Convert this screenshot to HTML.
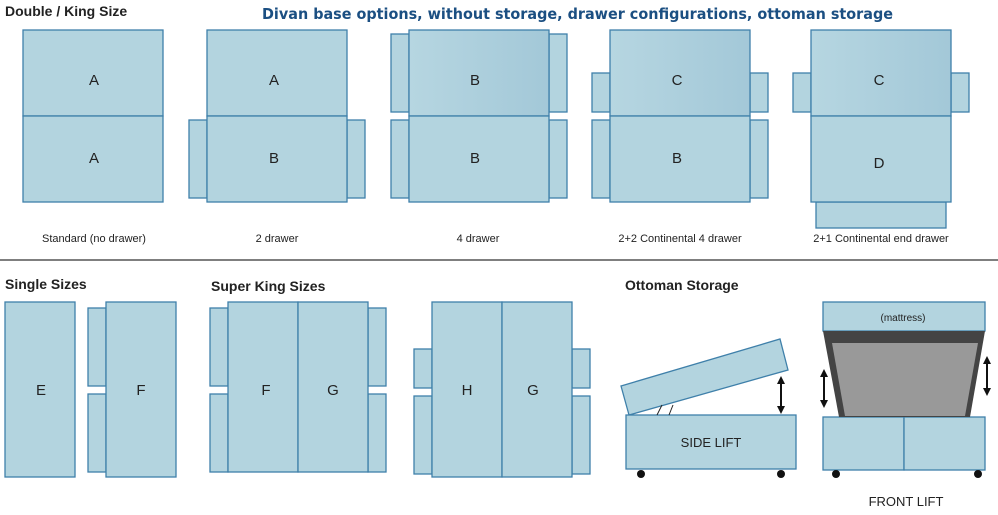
<!DOCTYPE html><html><head><style>body{margin:0;background:#fff}svg{display:block}</style></head><body>
<svg width="998" height="515" xmlns="http://www.w3.org/2000/svg" font-family="Liberation Sans, sans-serif">
<defs><linearGradient id="g" x1="0" x2="1"><stop offset="0" stop-color="#b6d6e1"/><stop offset="1" stop-color="#a3c8d8"/></linearGradient>
<marker id="ah" viewBox="0 0 10 10" refX="5" refY="5" markerWidth="4" markerHeight="4" orient="auto-start-reverse"><path d="M0,0L10,5L0,10z" fill="#111"/></marker></defs>
<g fill="#b3d4df" stroke="#3f80aa" stroke-width="1.3">
<rect x="23" y="30" width="140" height="86"/><rect x="23" y="116" width="140" height="86"/>
<rect x="189" y="120" width="18" height="78"/><rect x="347" y="120" width="18" height="78"/>
<rect x="207" y="30" width="140" height="86"/><rect x="207" y="116" width="140" height="86"/>
<rect x="391" y="34" width="18" height="78"/><rect x="391" y="120" width="18" height="78"/><rect x="549" y="34" width="18" height="78"/><rect x="549" y="120" width="18" height="78"/>
<rect x="409" y="30" width="140" height="86" fill="url(#g)"/><rect x="409" y="116" width="140" height="86"/>
<rect x="592" y="73" width="18" height="39"/><rect x="592" y="120" width="18" height="78"/><rect x="750" y="73" width="18" height="39"/><rect x="750" y="120" width="18" height="78"/>
<rect x="610" y="30" width="140" height="86" fill="url(#g)"/><rect x="610" y="116" width="140" height="86"/>
<rect x="793" y="73" width="18" height="39"/><rect x="951" y="73" width="18" height="39"/><rect x="816" y="202" width="130" height="26"/>
<rect x="811" y="30" width="140" height="86" fill="url(#g)"/><rect x="811" y="116" width="140" height="86"/>
<rect x="5" y="302" width="70" height="175"/>
<rect x="88" y="308" width="18" height="78"/><rect x="88" y="394" width="18" height="78"/><rect x="106" y="302" width="70" height="175"/>
<rect x="210" y="308" width="18" height="78"/><rect x="210" y="394" width="18" height="78"/><rect x="368" y="308" width="18" height="78"/><rect x="368" y="394" width="18" height="78"/>
<rect x="228" y="302" width="70" height="170"/><rect x="298" y="302" width="70" height="170"/>
<rect x="414" y="349" width="18" height="39"/><rect x="414" y="396" width="18" height="78"/><rect x="572" y="349" width="18" height="39"/><rect x="572" y="396" width="18" height="78"/>
<rect x="432" y="302" width="70" height="175"/><rect x="502" y="302" width="70" height="175"/>
<polygon points="621,386 780,339 788,370 629,415"/>
<rect x="626" y="415" width="170" height="54"/>
<rect x="823" y="302" width="162" height="29"/>
<rect x="823" y="417" width="81" height="53"/><rect x="904" y="417" width="81" height="53"/>
</g>
<line x1="657" y1="415" x2="662" y2="405" stroke="#222"/><line x1="669" y1="415" x2="673" y2="405" stroke="#222"/>
<polygon points="823,331 985,331 970,417 839,417" fill="#444"/>
<polygon points="832,343 978,343 965,416 845,416" fill="#999"/>
<g fill="#111"><circle cx="641" cy="474" r="4"/><circle cx="781" cy="474" r="4"/><circle cx="836" cy="474" r="4"/><circle cx="978" cy="474" r="4"/></g>
<g stroke="#111" stroke-width="2" marker-start="url(#ah)" marker-end="url(#ah)"><line x1="781" y1="380" x2="781" y2="410"/><line x1="824" y1="373" x2="824" y2="404"/><line x1="987" y1="360" x2="987" y2="392"/></g>
<line x1="0" y1="260" x2="998" y2="260" stroke="#333" stroke-width="1.2"/>
<g font-size="15" fill="#222" text-anchor="middle">
<text x="94" y="85">A</text><text x="94" y="163">A</text><text x="274" y="85">A</text><text x="274" y="163">B</text>
<text x="475" y="85">B</text><text x="475" y="163">B</text><text x="677" y="85">C</text><text x="677" y="163">B</text>
<text x="879" y="85">C</text><text x="879" y="168">D</text>
<text x="41" y="395">E</text><text x="141" y="395">F</text><text x="266" y="395">F</text><text x="333" y="395">G</text>
<text x="467" y="395">H</text><text x="533" y="395">G</text>
</g>
<g font-size="11" fill="#222" text-anchor="middle">
<text x="94" y="242">Standard (no drawer)</text><text x="277" y="242">2 drawer</text><text x="478" y="242">4 drawer</text>
<text x="680" y="242">2+2 Continental 4 drawer</text><text x="881" y="242">2+1 Continental end drawer</text>
<text x="903" y="321" font-size="10">(mattress)</text>
<text x="711" y="447" font-size="13">SIDE LIFT</text><text x="906" y="506" font-size="13">FRONT LIFT</text>
</g>
<g font-size="14" font-weight="bold" fill="#222">
<text x="5" y="16">Double / King Size</text><text x="5" y="289">Single Sizes</text>
<text x="211" y="291">Super King Sizes</text><text x="625" y="290">Ottoman Storage</text>
</g>
<text x="262" y="19" font-family="DejaVu Sans, sans-serif" font-size="15" font-weight="bold" fill="#1b4f82" textLength="631" lengthAdjust="spacingAndGlyphs">Divan base options, without storage, drawer configurations, ottoman storage</text>
</svg>
</body></html>
